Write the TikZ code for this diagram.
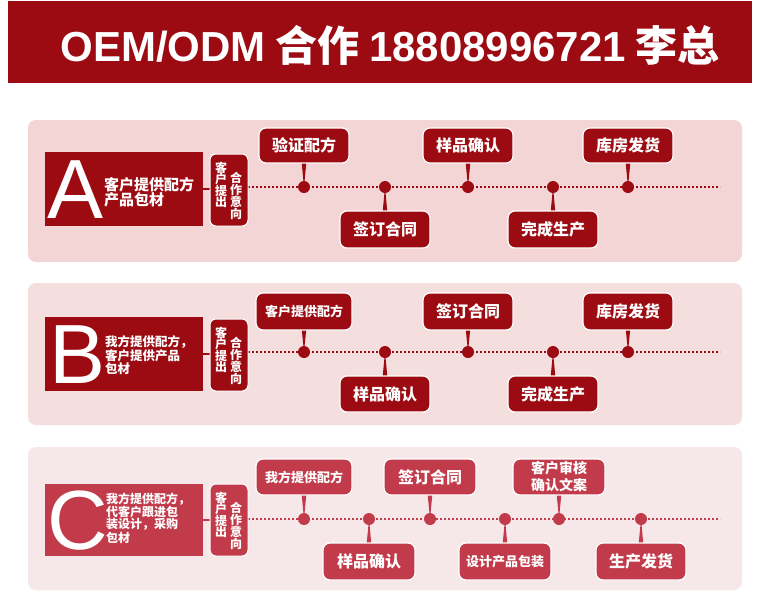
\documentclass[tikz,border=0pt]{standalone}
\usepackage{fontspec}
\setmainfont{Noto Sans CJK SC}
\newfontfamily\latin{Liberation Sans}
\definecolor{dred}{HTML}{9C0B12}
\definecolor{cred}{HTML}{C23B4A}
\definecolor{pa}{HTML}{F3D5D5}
\definecolor{pb}{HTML}{F5DEDE}
\definecolor{pc}{HTML}{F6E8E9}
\tikzset{
 panel/.style={rounded corners=8pt,inner sep=0},
 callbox/.style={rounded corners=7pt,draw=white,line width=1.2pt,text=white,font=\bfseries\fontsize{16}{17}\selectfont,inner sep=0,align=center},
 tabbox/.style={rounded corners=6pt,draw=white,line width=1pt,inner sep=0},
 tabtxt/.style={text=white,font=\bfseries\fontsize{12}{11.5}\selectfont,align=center,inner sep=0},
 dotline/.style={line width=2pt,dash pattern=on 2pt off 2pt},
 bigletter/.style={text=white,font=\latin\fontsize{84}{84}\selectfont,inner sep=0},
}
% \callout{name}{color}{cx}{ytop}{ybot}{width}{dotx}{liney}{text}
\newcommand{\callout}[9]{%
 \fill[#2] (#3pt-4pt,{-(#4+#5)/2*1pt}) -- (#3pt+4pt,{-(#4+#5)/2*1pt}) -- (#7pt,-#8pt) -- cycle;
 \node[callbox,fill=#2,minimum width=#6pt,minimum height=#5pt-#4pt] (#1) at (#3pt,{-(#4+#5)/2*1pt}) {#9};
 \fill[#2] (#7pt,-#8pt) circle (6pt);
}
\begin{document}
\begin{tikzpicture}[x=1pt,y=-1pt]
\useasboundingbox (0,0) rectangle (763,600);
\fill[white] (0,0) rectangle (763,600);
% title
\node[fill=dred,minimum width=744pt,minimum height=82pt,inner sep=0] (title) at (380,42) {};
\node[text=white,font=\bfseries\fontsize{42}{42}\selectfont] (ttl) at (390,45) {{\latin\bfseries OEM/ODM} 合作 {\latin\bfseries 18808996721} 李总};
% panels
\node[panel,fill=pa,minimum width=714pt,minimum height=142pt] (PA) at (385,191) {};
\node[panel,fill=pb,minimum width=714pt,minimum height=142pt] (PB) at (385,354) {};
\node[panel,fill=pc,minimum width=714pt,minimum height=143pt] (PC) at (385,518.5) {};

% ---------- A ----------
\draw[dotline,dred] (248,187) -- (720,187);
\node[fill=dred,minimum width=158pt,minimum height=74pt,inner sep=0] (LA) at (124,189) {};
\node[bigletter] (lA) at (76,190) {A};
\node[text=white,font=\bfseries\fontsize{15}{15}\selectfont,align=left,inner sep=0,anchor=west] (tA) at (104,192) {客户提供配方\\产品包材};
\draw[dred,line width=2pt] (LA.east) -- (212,189);
\node[tabbox,fill=dred,minimum width=38pt,minimum height=72pt] (TA) at (229,190) {};
\node[tabtxt] at (221,185) {客\\户\\提\\出};
\node[tabtxt] at (236,196) {合\\作\\意\\向};
\callout{a1}{dred}{304}{128}{163}{90}{304}{187}{验证配方}
\callout{a2}{dred}{385}{211}{248}{90}{385}{187}{签订合同}
\callout{a3}{dred}{468}{128}{163}{90}{468}{187}{样品确认}
\callout{a4}{dred}{553}{211}{248}{90}{553}{187}{完成生产}
\callout{a5}{dred}{628}{128}{163}{90}{628}{187}{库房发货}

% ---------- B ----------
\draw[dotline,dred] (248,352) -- (720,352);
\node[fill=dred,minimum width=158pt,minimum height=74pt,inner sep=0] (LB) at (124,354) {};
\node[bigletter] (lB) at (78,355) {B};
\node[text=white,font=\bfseries\fontsize{12.5}{12.5}\selectfont,align=left,inner sep=0,anchor=west] (tB) at (105,355) {我方提供配方，\\客户提供产品\\包材};
\draw[dred,line width=2pt] (LB.east) -- (212,354);
\node[tabbox,fill=dred,minimum width=38pt,minimum height=72pt] (TB) at (229,355) {};
\node[tabtxt] at (221,350) {客\\户\\提\\出};
\node[tabtxt] at (236,361) {合\\作\\意\\向};
\callout{b1}{dred}{304}{293}{330}{96}{304}{352}{\fontsize{13}{14}\selectfont 客户提供配方}
\callout{b2}{dred}{385}{376}{412}{90}{385}{352}{样品确认}
\callout{b3}{dred}{468}{293}{330}{90}{468}{352}{签订合同}
\callout{b4}{dred}{553}{376}{412}{90}{553}{352}{完成生产}
\callout{b5}{dred}{628}{293}{330}{90}{628}{352}{库房发货}

% ---------- C ----------
\draw[dotline,cred] (248,519) -- (720,519);
\node[fill=cred,minimum width=158pt,minimum height=72pt,inner sep=0] (LC) at (124,520) {};
\node[bigletter] (lC) at (78,521) {C};
\node[text=white,font=\bfseries\fontsize{12}{11.5}\selectfont,align=left,inner sep=0,anchor=west] (tC) at (106,518) {我方提供配方，\\代客户跟进包\\装设计，采购\\包材};
\draw[cred,line width=2pt] (LC.east) -- (212,520);
\node[tabbox,fill=cred,minimum width=38pt,minimum height=72pt] (TC) at (229,520) {};
\node[tabtxt] at (221,515) {客\\户\\提\\出};
\node[tabtxt] at (236,526) {合\\作\\意\\向};
\callout{c1}{cred}{304}{459}{495}{96}{304}{519}{\fontsize{13}{14}\selectfont 我方提供配方}
\callout{c2}{cred}{369}{543}{580}{92}{369}{519}{样品确认}
\callout{c3}{cred}{430}{459}{495}{92}{430}{519}{签订合同}
\callout{c4}{cred}{505}{543}{580}{92}{505}{519}{\fontsize{13}{14}\selectfont 设计产品包装}
\callout{c5}{cred}{559}{459}{495}{92}{559}{519}{{\fontsize{14}{13}\selectfont 客户审核}\\{\fontsize{14}{13}\selectfont 确认文案}}
\callout{c6}{cred}{641}{543}{580}{90}{641}{519}{生产发货}
\end{tikzpicture}
\end{document}
